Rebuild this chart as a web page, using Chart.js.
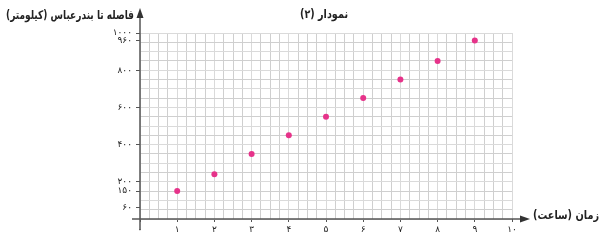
<!DOCTYPE html>
<html><head><meta charset="utf-8">
<script src="https://cdn.jsdelivr.net/npm/chart.js@4/dist/chart.umd.min.js"></script>
<style>html,body{margin:0;padding:0;background:#fff}canvas{display:block}</style>
</head><body>
<canvas id="c" width="602" height="245"></canvas>
<script>
const hours = [1, 2, 3, 4, 5, 6, 7, 8, 9];
const distances = [150, 240, 350, 450, 550, 650, 750, 850, 960];
const xTickValues = [0, 1, 2, 3, 4, 5, 6, 7, 8, 9, 10];
const xTickLabels = ['۰', '۱', '۲', '۳', '۴', '۵', '۶', '۷', '۸', '۹', '۱۰'];
const yTickValues = [60, 150, 200, 400, 600, 800, 960, 1000];
const yTickLabels = ['۶۰', '۱۵۰', '۲۰۰', '۴۰۰', '۶۰۰', '۸۰۰', '۹۶۰', '۱۰۰۰'];
const chartTitle = 'نمودار (۲)';
const xTitle = 'زمان (ساعت)';
const yTitle = 'فاصله تا بندرعباس (کیلومتر)';
const xMax = 10, yMax = 1000;
const xGridStep = 0.25, yGridStep = 50;

const FONT = "'DejaVu Sans', sans-serif";

const axesPlugin = {
  id: 'axesPlugin',
  beforeDatasetsDraw(chart) {
    const { ctx, scales: { x, y } } = chart;
    const x0 = x.getPixelForValue(0), y0 = y.getPixelForValue(0);
    const xEnd = x.getPixelForValue(xMax), yTop = y.getPixelForValue(yMax);
    ctx.save();
    ctx.strokeStyle = '#555';
    ctx.lineWidth = 1.5;
    ctx.beginPath();
    ctx.moveTo(x0 - 8, y0); ctx.lineTo(xEnd + 10, y0);
    ctx.moveTo(x0, y0 + 11); ctx.lineTo(x0, yTop - 16);
    ctx.stroke();
    ctx.fillStyle = '#333';
    ctx.beginPath();
    ctx.moveTo(xEnd + 18, y0); ctx.lineTo(xEnd + 8, y0 - 3.5); ctx.lineTo(xEnd + 8, y0 + 3.5);
    ctx.closePath(); ctx.fill();
    ctx.beginPath();
    ctx.moveTo(x0, yTop - 25); ctx.lineTo(x0 - 3.5, yTop - 15); ctx.lineTo(x0 + 3.5, yTop - 15);
    ctx.closePath(); ctx.fill();
    ctx.restore();
  },
  afterDraw(chart) {
    const { ctx, chartArea, scales: { x, y } } = chart;
    const x0 = x.getPixelForValue(0), y0 = y.getPixelForValue(0);
    const xEnd = x.getPixelForValue(xMax);
    ctx.save();
    ctx.fillStyle = '#222';
    ctx.direction = 'rtl';
    ctx.textBaseline = 'middle';
    ctx.font = 'bold 12px ' + FONT;
    ctx.textAlign = 'center';
    ctx.fillText(chartTitle, (chartArea.left + chartArea.right) / 2 - 2, 15, 48);
    ctx.textAlign = 'right';
    ctx.fillText(yTitle, x0 - 6, 16, 128);
    ctx.textAlign = 'left';
    ctx.fillText(xTitle, xEnd + 21, y0 - 3, 66);
    ctx.restore();
  }
};

new Chart(document.getElementById('c'), {
  type: 'scatter',
  data: {
    datasets: [{
      data: hours.map((h, i) => ({ x: h, y: distances[i] })),
      backgroundColor: '#e6338a',
      borderWidth: 0,
      pointRadius: 3,
      pointHoverRadius: 3
    }]
  },
  options: {
    responsive: false,
    animation: false,
    layout: { padding: { left: 100, right: 90, top: 33, bottom: 0 } },
    plugins: { legend: { display: false }, tooltip: { enabled: false }, title: { display: false } },
    clip: false,
    scales: {
      x: {
        type: 'linear', min: 0, max: xMax,
        afterFit(s) { s.height = 26; },
        afterBuildTicks(s) {
          const t = [];
          for (let i = 0; i <= xMax / xGridStep; i++) t.push({ value: i * xGridStep });
          s.ticks = t;
        },
        border: { display: false },
        grid: {
          color: c => (c.tick && Number.isInteger(c.tick.value)) ? '#dadada' : '#cfcfcf',
          lineWidth: 1,
          tickLength: 3,
          tickColor: c => (c.tick && xTickValues.includes(c.tick.value)) ? '#555' : 'transparent'
        },
        ticks: {
          autoSkip: false, maxRotation: 0, padding: 2,
          font: { family: FONT, size: 9 }, color: '#222',
          callback: v => { const i = xTickValues.indexOf(v); return i >= 0 ? xTickLabels[i] : ''; }
        }
      },
      y: {
        type: 'linear', min: 0, max: yMax,
        afterFit(s) { s.width = 40; },
        afterBuildTicks(s) {
          const vals = [];
          for (let i = 0; i <= yMax / yGridStep; i++) vals.push(i * yGridStep);
          yTickValues.forEach(v => { if (!vals.includes(v)) vals.push(v); });
          vals.sort((a, b) => a - b);
          s.ticks = vals.map(v => ({ value: v }));
        },
        border: { display: false },
        grid: {
          color: c => (c.tick && c.tick.value % yGridStep === 0) ? (c.tick.value % 100 === 0 ? '#dadada' : '#cfcfcf') : 'transparent',
          lineWidth: 1,
          tickLength: 4,
          tickColor: c => (c.tick && yTickValues.includes(c.tick.value)) ? '#555' : 'transparent'
        },
        ticks: {
          autoSkip: false, padding: 4,
          font: { family: FONT, size: 9 }, color: '#222',
          callback: v => { const i = yTickValues.indexOf(v); return i >= 0 ? yTickLabels[i] : ''; }
        }
      }
    }
  },
  plugins: [axesPlugin]
});
</script>
</body></html>
